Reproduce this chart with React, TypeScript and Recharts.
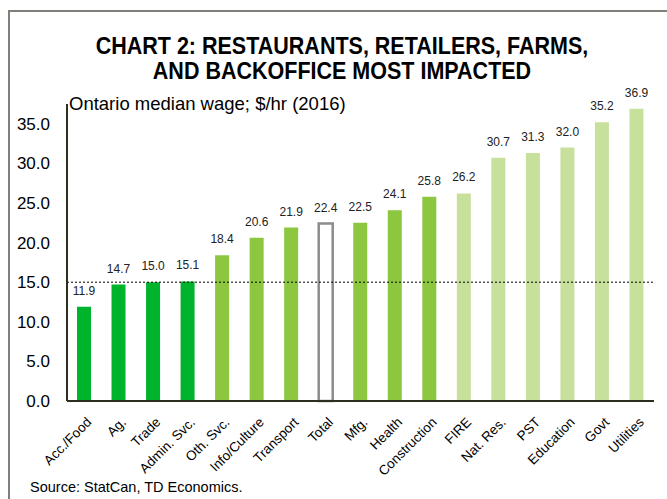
import React from 'react'
import { BarChart, Bar, XAxis, YAxis, Cell, LabelList, ReferenceLine } from 'recharts'

const categories = [
  'Acc./Food', 'Ag.', 'Trade', 'Admin. Svc.', 'Oth. Svc.', 'Info/Culture', 'Transport', 'Total',
  'Mfg.', 'Health', 'Construction', 'FIRE', 'Nat. Res.', 'PST', 'Education', 'Govt', 'Utilities',
]
const wages = [11.9, 14.7, 15.0, 15.1, 18.4, 20.6, 21.9, 22.4, 22.5, 24.1, 25.8, 26.2, 30.7, 31.3, 32.0, 35.2, 36.9]
// wage band each industry falls into
const bands = [
  'low', 'low', 'low', 'low', 'mid', 'mid', 'mid', 'total',
  'mid', 'mid', 'mid', 'high', 'high', 'high', 'high', 'high', 'high',
]
const yTicks = [0, 5, 10, 15, 20, 25, 30, 35]
const minWage = 15

const bandFill: Record<string, string> = {
  low: '#00B32D',
  mid: '#8DC63F',
  high: '#C7E19D',
  total: '#ffffff',
}

const data = categories.map((name, i) => ({ name, wage: wages[i], band: bands[i] }))

const FONT = '"Liberation Sans", Arial, sans-serif'

function AngledTick({ x, y, payload }: any) {
  return (
    <g transform={`translate(${x + 8},${y + 14})`}>
      <text
        transform="rotate(-45)"
        textAnchor="end"
        fontSize={13.5}
        fontFamily={FONT}
        fill="#000"
      >
        {payload.value}
      </text>
    </g>
  )
}

export default function App() {
  return (
    <div style={{ position: 'absolute', left: 0, top: 0, width: 667, height: 499, background: '#fff', overflow: 'hidden', fontFamily: FONT }}>
      <div style={{ position: 'absolute', left: 8, top: 10, width: 700, height: 520, borderTop: '2px solid #80807a', borderLeft: '2px solid #80807a' }} />
      <div
        style={{
          position: 'absolute', left: 0, top: 34, width: 684, textAlign: 'center', fontWeight: 'bold',
          fontSize: 23, lineHeight: '25px', color: '#000', transform: 'scaleX(0.935)', transformOrigin: '342px 0',
        }}
      >
        CHART 2: RESTAURANTS, RETAILERS, FARMS,
        <br />
        AND BACKOFFICE MOST IMPACTED
      </div>
      <div style={{ position: 'absolute', left: 69, top: 93, fontSize: 18.5, color: '#000', whiteSpace: 'nowrap' }}>
        Ontario median wage; $/hr (2016)
      </div>
      <div style={{ position: 'absolute', left: 30, top: 479, fontSize: 14.5, color: '#000' }}>
        Source: StatCan, TD Economics.
      </div>
      <div style={{ position: 'absolute', left: 0, top: 0 }}>
        <BarChart
          width={667}
          height={499}
          data={data}
          margin={{ top: 104, right: 13, left: 0, bottom: 8 }}
          barCategoryGap={0}
        >
          <YAxis
            width={67}
            domain={[0, 37.5]}
            ticks={yTicks}
            tickFormatter={(v: number) => v.toFixed(1)}
            tick={{ fontSize: 17, fill: '#000', fontFamily: FONT }}
            tickLine={false}
            tickMargin={11}
            axisLine={{ stroke: '#2a2f1f', strokeWidth: 2 }}
          />
          <XAxis
            dataKey="name"
            height={90}
            interval={0}
            tick={<AngledTick />}
            tickLine={false}
            axisLine={{ stroke: '#2a2f1f', strokeWidth: 2 }}
          />
          <ReferenceLine y={minWage} stroke="#000" strokeDasharray="2 2" strokeWidth={1} />
          <Bar dataKey="wage" barSize={14} isAnimationActive={false}>
            {data.map((d) => (
              <Cell
                key={d.name}
                fill={bandFill[d.band]}
                stroke={d.band === 'total' ? '#8c8c8c' : 'none'}
                strokeWidth={d.band === 'total' ? 2.5 : 0}
              />
            ))}
            <LabelList
              dataKey="wage"
              position="top"
              offset={12}
              formatter={(v: any) => Number(v).toFixed(1)}
              style={{ fontSize: 12, fill: '#222', fontFamily: FONT }}
            />
          </Bar>
        </BarChart>
      </div>
    </div>
  )
}
